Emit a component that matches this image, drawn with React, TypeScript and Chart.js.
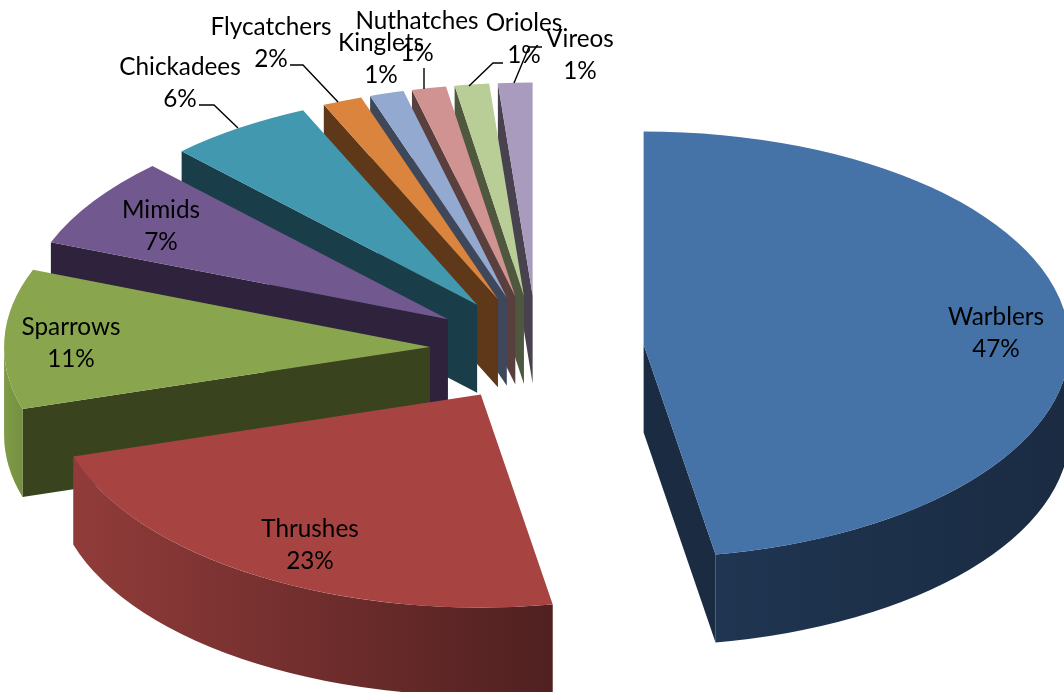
import React, { useEffect, useRef } from "react";
import { Chart, registerables } from "chart.js";

Chart.register(...registerables);

const categories = ["Warblers", "Thrushes", "Sparrows", "Mimids", "Chickadees", "Flycatchers", "Kinglets", "Nuthatches", "Orioles", "Vireos"];
const shares = [47.3, 23, 10.6, 6.9, 5.5, 1.5, 1.3, 1.3, 1.3, 1.3];

const topColors = ["#4572a7", "#a74442", "#89a54e", "#71588f", "#4198af", "#db843d", "#93a9cf", "#d19392", "#b9cd96", "#a99bbd"];
const edgeColors = ["#1a2b42", "#4a1f1e", "#39441e", "#2e223d", "#1a3e49", "#5e3818", "#3f485a", "#5a3f3f", "#4f583f", "#48424f"];
const rimLeft = ["#1f3551", "#913c3a", "#7f9c48", "#2e223d", "#1a3e49", "#5e3818", "#3f485a", "#5a3f3f", "#4f583f", "#48424f"];
const rimRight = ["#1a2b42", "#502020", "#75903e", "#2e223d", "#1a3e49", "#5e3818", "#3f485a", "#5a3f3f", "#4f583f", "#48424f"];

const RADIUS = 426;
const SQUASH = 0.5;
const EXPLODE = 107;
const DEPTH = 88;

// label centres: name line (x, y); the percentage line sits one line below
const labelX = [996, 310, 71, 161, 180, 271, 381, 417, 524, 580];
const labelY = [317, 529, 327, 210, 67, 27, 43, 21, 23, 39];
const LINE_GAP = 32;
const leaders: number[][][] = [
  [], [], [], [],
  [[199, 105], [214, 105], [238, 128]],
  [[290, 65], [303, 65], [338, 102]],
  [],
  [[424, 68], [424, 89]],
  [[503, 63], [493, 63], [469, 86]],
  [[542, 47], [529, 47], [514, 83]],
];

const pie3d = {
  id: "pie3d",
  beforeDatasetDraw(chart: any, args: any) {
    const ctx = chart.ctx;
    const arcs = args.meta.data;
    for (let i = arcs.length - 1; i >= 0; i--) {
      const arc = arcs[i];
      const s = arc.startAngle;
      const e = arc.endAngle;
      const mid = (s + e) / 2;
      const ox = arc.x + Math.cos(mid) * EXPLODE;
      const oy = arc.y + Math.sin(mid) * EXPLODE * SQUASH;
      const R = arc.outerRadius;
      const rim = (a: number) => [ox + Math.cos(a) * R, oy + Math.sin(a) * R * SQUASH];
      const wall = (a: number) => {
        const p = rim(a);
        ctx.beginPath();
        ctx.moveTo(ox, oy);
        ctx.lineTo(p[0], p[1]);
        ctx.lineTo(p[0], p[1] + DEPTH);
        ctx.lineTo(ox, oy + DEPTH);
        ctx.closePath();
        ctx.fillStyle = edgeColors[i];
        ctx.fill();
      };
      // a radial cut shows when its outward normal points towards the viewer
      if (Math.cos(s) < 0) wall(s);
      if (Math.cos(e) > 0) wall(e);
      const lo = Math.max(s, 0);
      const hi = Math.min(e, Math.PI);
      if (hi > lo) {
        const a = rim(lo);
        const b = rim(hi);
        const grad = ctx.createLinearGradient(Math.min(a[0], b[0]), 0, Math.max(a[0], b[0]), 0);
        grad.addColorStop(0, rimLeft[i]);
        grad.addColorStop(1, rimRight[i]);
        ctx.beginPath();
        ctx.ellipse(ox, oy, R, R * SQUASH, 0, lo, hi, false);
        ctx.ellipse(ox, oy + DEPTH, R, R * SQUASH, 0, hi, lo, true);
        ctx.closePath();
        ctx.fillStyle = grad;
        ctx.fill();
      }
      ctx.save();
      ctx.translate(ox, oy);
      ctx.scale(1, SQUASH);
      ctx.translate(-arc.x, -arc.y);
      arc.draw(ctx);
      ctx.restore();
    }
    return false;
  },
  afterDraw(chart: any) {
    const ctx = chart.ctx;
    ctx.save();
    ctx.strokeStyle = "#000";
    ctx.lineWidth = 1.4;
    leaders.forEach((pts) => {
      if (!pts.length) return;
      ctx.beginPath();
      pts.forEach((p, k) => (k ? ctx.lineTo(p[0], p[1]) : ctx.moveTo(p[0], p[1])));
      ctx.stroke();
    });
    ctx.fillStyle = "#000";
    ctx.font = "24.3px Lato";
    ctx.textAlign = "center";
    ctx.textBaseline = "middle";
    categories.forEach((name, i) => {
      ctx.fillText(name, labelX[i], labelY[i]);
      ctx.fillText(Math.round(shares[i]) + "%", labelX[i], labelY[i] + LINE_GAP);
    });
    ctx.restore();
  },
};

export default function App() {
  const ref = useRef<HTMLCanvasElement>(null);
  useEffect(() => {
    document.body.style.margin = "0";
    document.body.style.background = "#fff";
    const chart = new Chart(ref.current!, {
      type: "pie",
      data: {
        labels: categories,
        datasets: [{ data: shares, backgroundColor: topColors, borderWidth: 0, radius: RADIUS, hoverOffset: 0 }],
      },
      options: {
        animation: false,
        responsive: false,
        layout: { padding: { left: 10, top: 6 } },
        plugins: { legend: { display: false }, tooltip: { enabled: false } },
      },
      plugins: [pie3d],
    } as any);
    return () => chart.destroy();
  }, []);
  return <canvas ref={ref} width={1064} height={692} style={{ display: "block" }} />;
}
